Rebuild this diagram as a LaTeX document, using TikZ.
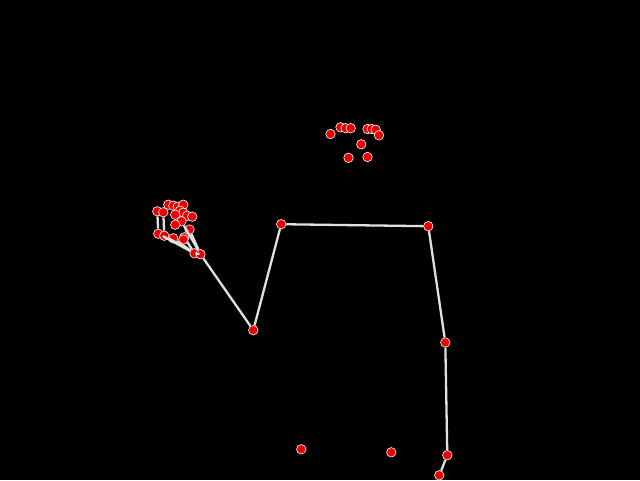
\documentclass[tikz,border=0pt]{standalone}
\usepackage{tikz}
\usetikzlibrary{positioning}
\definecolor{kpred}{RGB}{235, 0, 0}
\definecolor{bonegray}{RGB}{224, 224, 224}

\tikzset{
  kp/.style={circle, fill=kpred, draw=white, line width=0.6pt, minimum size=9.5pt, inner sep=0pt},
  bone/.style={line width=2.3pt, color=bonegray}
}

\begin{document}
\begin{tikzpicture}[x=1pt, y=-1pt]
    % Background
    \fill[black] (0,0) rectangle (640,480);
    \useasboundingbox (0,0) rectangle (640,480);

    % Face
    \node[kp] (earR) at (330.5,134) {};
    \node[kp] (eyeRo) at (340.5,127.3) {};
    \node[kp] (eyeR) at (345.7,128.2) {};
    \node[kp] (eyeRi) at (350.7,128.2) {};
    \node[kp] (eyeLi) at (367.5,129) {};
    \node[kp] (eyeL) at (371.7,129) {};
    \node[kp] (eyeLo) at (375.7,129.7) {};
    \node[kp] (earL) at (379,135.3) {};
    \node[kp] (nose) at (361.3,144.3) {};
    \node[kp] (mouthR) at (348.5,157.8) {};
    \node[kp] (mouthL) at (367.5,157) {};

    % Hand (left of picture)
    \foreach \n/\x/\y in {h1/157.3/211.3, h2/163.3/212.3, h3/168.3/204.7, h4/173.3/205.7,
        h5/177.7/206.7, h6/183.3/204.7, h8/180/210.7, h9/183.3/212.7, h10/187.3/215.7,
        h11/192.3/216.7, h7/175.3/214.7, h13/181.5/221.3, h12/175.3/224.7, h14/189.5/229.5,
        h15/158.3/233.7, h16/164.3/235.7, h17/173.3/238.3, h18/184.3/237.3, h19/183.5/239.5}
        \node[kp] (\n) at (\x,\y) {};
    \node[kp] (wristA) at (194.5,253.3) {};
    \node[kp] (wristR) at (200.5,254.2) {};

    % Body
    \node[kp] (shoulderR) at (281.2,224.2) {};
    \node[kp] (shoulderL) at (428.3,226.2) {};
    \node[kp] (elbowR) at (253.3,330.2) {};
    \node[kp] (elbowL) at (445.3,342.5) {};
    \node[kp] (wristL) at (447.3,455.2) {};
    \node[kp] (handL) at (439.3,475.3) {};
    \node[kp] (hipR) at (301.3,449.3) {};
    \node[kp] (hipL) at (391.3,452.3) {};

    % Bones
    \draw[bone] (shoulderR) -- (shoulderL);
    \draw[bone] (shoulderR) -- (elbowR) -- (wristR);
    \draw[bone] (shoulderL) -- (elbowL) -- (wristL) -- (handL);
    \draw[bone] (h1) -- (h15) -- (wristA);
    \draw[bone] (h2) -- (h16) -- (wristA);
    \draw[bone] (h17) -- (wristA);
    \draw[bone] (h18) -- (wristA);
    \draw[bone] (h14) -- (wristR);
    \draw[bone] (h13) -- (wristR);
    \draw[bone] (wristA) -- (wristR);
\end{tikzpicture}
\end{document}
